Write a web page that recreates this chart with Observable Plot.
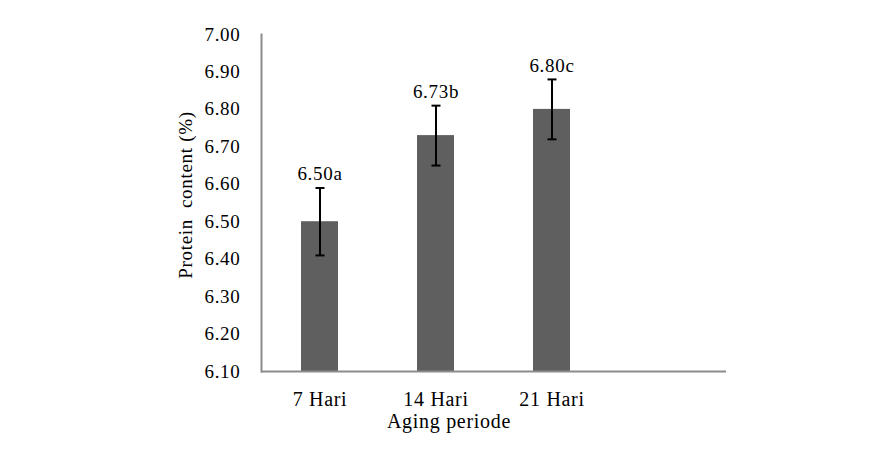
<!DOCTYPE html>
<html>
<head>
<meta charset="utf-8">
<script src="https://cdn.jsdelivr.net/npm/d3@7"></script>
<script src="https://cdn.jsdelivr.net/npm/@observablehq/plot@0.6"></script>
<style>
  html, body { margin: 0; padding: 0; background: #fff; }
  #chart svg { display: block; }
</style>
</head>
<body>
<div id="chart"></div>
<script>
const categories = ["7 Hari", "14 Hari", "21 Hari", ""];
const means = [6.50, 6.73, 6.80];
const errors = [0.09, 0.08, 0.08];
const letters = ["a", "b", "c"];
const yTicks = [6.1, 6.2, 6.3, 6.4, 6.5, 6.6, 6.7, 6.8, 6.9, 7.0];

const data = means.map((m, i) => ({
  cat: categories[i], mean: m, lo: m - errors[i], hi: m + errors[i],
  label: m.toFixed(2) + letters[i]
}));

const font = "'Liberation Serif', 'Times New Roman', serif";
const axisColor = "#8c8c8c";

// horizontal cap symbol for error bars
const capSymbol = { draw(context) { context.moveTo(-4.5, 0); context.lineTo(4.5, 0); } };

const chart = Plot.plot({
  width: 896,
  height: 466,
  marginLeft: 261,
  marginRight: 170,
  marginTop: 34,
  marginBottom: 95,
  style: { fontFamily: font, fontSize: "19px", color: "#000", background: "#fff", letterSpacing: "0.7px" },
  x: { domain: categories, paddingInner: 0.684, paddingOuter: 0.342, align: 0.5 },
  y: { domain: [6.1, 7.0] },
  marks: [
    Plot.barY(data, { x: "cat", y1: 6.1, y2: "mean", fill: "#5f5f5f" }),
    Plot.ruleX(data, { x: "cat", y1: "lo", y2: "hi", stroke: "#000", strokeWidth: 2 }),
    Plot.dot(data, { x: "cat", y: "lo", symbol: capSymbol, stroke: "#000", strokeWidth: 2, fill: "none" }),
    Plot.dot(data, { x: "cat", y: "hi", symbol: capSymbol, stroke: "#000", strokeWidth: 2, fill: "none" }),
    Plot.text(data, { x: "cat", y: "hi", text: "label", dy: -14, fontSize: 19, fill: "#000" }),
    Plot.axisY({ ticks: yTicks, tickFormat: d => d.toFixed(2), tickSize: 0, tickPadding: 21, label: null, fontSize: 19 }),
    Plot.axisX({ tickSize: 0, tickPadding: 20, label: null, fontSize: 20, tickFormat: d => d }),
    Plot.ruleY([6.1], { stroke: axisColor, strokeWidth: 2 }),
    Plot.frame({ anchor: "left", stroke: axisColor, strokeWidth: 2 }),
    Plot.text(["Aging periode"], { frameAnchor: "bottom", lineAnchor: "middle", dx: -45, dy: 50, fontSize: 20, fill: "#000" }),
    Plot.text(["Protein\u00a0 content (%)"], { frameAnchor: "left", textAnchor: "middle", rotate: -90, dx: -76, dy: -8, fontSize: 19, fill: "#000" })
  ]
});
document.getElementById("chart").appendChild(chart);
</script>
</body>
</html>
